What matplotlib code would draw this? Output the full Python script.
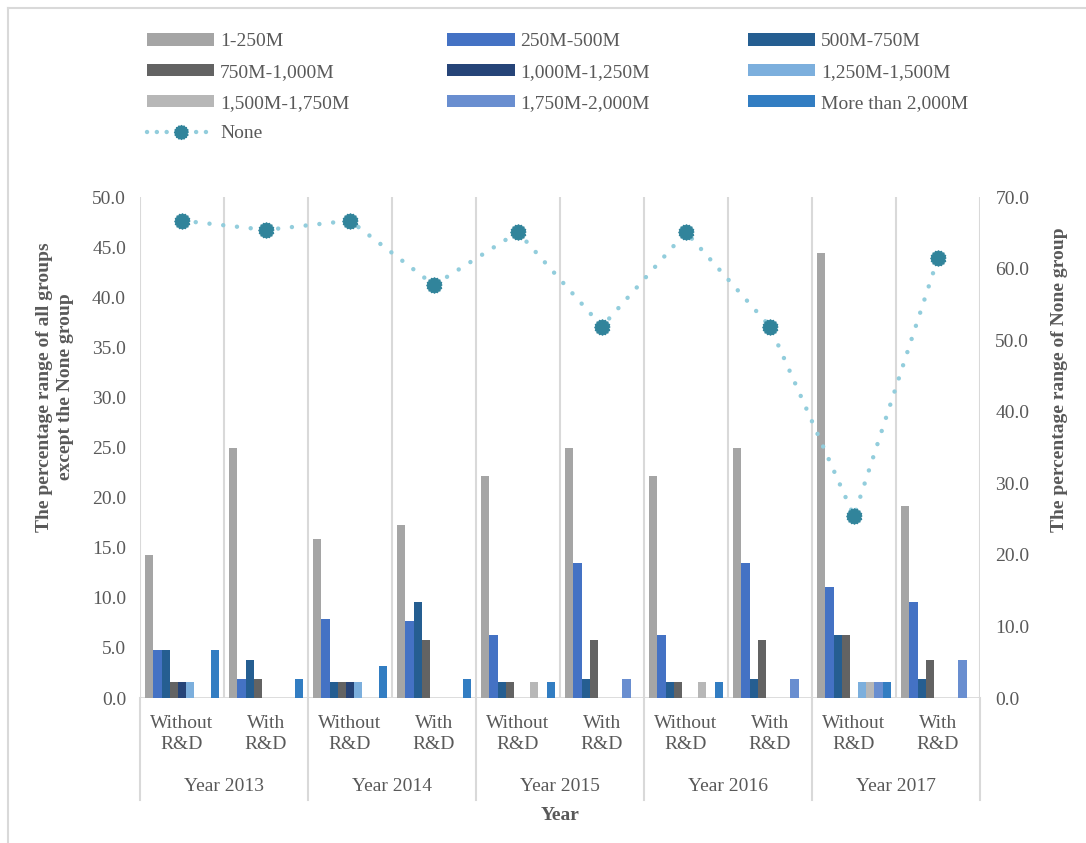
import numpy as np
import matplotlib
matplotlib.use("Agg")
import matplotlib.pyplot as plt
from matplotlib.lines import Line2D

plt.rcParams["font.family"] = ["Liberation Serif", "DejaVu Serif"]
plt.rcParams["font.size"] = 14

TEXT = "#595959"
GRID = "#D9D9D9"

years = ["Year 2013", "Year 2014", "Year 2015", "Year 2016", "Year 2017"]
groups = ["Without\nR&D", "With\nR&D"] * 5

sizes = ["1-250M", "250M-500M", "500M-750M", "750M-1,000M", "1,000M-1,250M",
         "1,250M-1,500M", "1,500M-1,750M", "1,750M-2,000M", "More than 2,000M"]
colors = ["#A5A5A5", "#4472C4", "#255E91", "#636363", "#264478",
          "#7CAFDD", "#B7B7B7", "#698ED0", "#327DC2"]

# one row per size band, one column per year/R&D group
s_1_250 = [14.3, 25.0, 15.9, 17.3, 22.2, 25.0, 22.2, 25.0, 44.4, 19.2]
s_250_500 = [4.8, 1.9, 7.9, 7.7, 6.3, 13.5, 6.3, 13.5, 11.1, 9.6]
s_500_750 = [4.8, 3.8, 1.6, 9.6, 1.6, 1.9, 1.6, 1.9, 6.3, 1.9]
s_750_1000 = [1.6, 1.9, 1.6, 5.8, 1.6, 5.8, 1.6, 5.8, 6.3, 3.8]
s_1000_1250 = [1.6, 0, 1.6, 0, 0, 0, 0, 0, 0, 0]
s_1250_1500 = [1.6, 0, 1.6, 0, 0, 0, 0, 0, 1.6, 0]
s_1500_1750 = [0, 0, 0, 0, 1.6, 0, 1.6, 0, 1.6, 0]
s_1750_2000 = [0, 0, 0, 0, 0, 1.9, 0, 1.9, 1.6, 3.8]
s_over_2000 = [4.8, 1.9, 3.2, 1.9, 1.6, 0, 1.6, 0, 1.6, 0]
none_group = [66.7, 65.4, 66.7, 57.7, 65.1, 51.9, 65.1, 51.9, 25.4, 61.5]

series = [s_1_250, s_250_500, s_500_750, s_750_1000, s_1000_1250,
          s_1250_1500, s_1500_1750, s_1750_2000, s_over_2000]

fig = plt.figure(figsize=(10.86, 8.43), dpi=100)
ax = fig.add_axes([0.1289, 0.172, 0.7735, 0.5943])
ax2 = ax.twinx()

x = np.arange(len(groups))
n = len(series)
w = 0.097
for i, (vals, lab, c) in enumerate(zip(series, sizes, colors)):
    ax.bar(x + (i - (n - 1) / 2) * w, vals, w, color=c, label=lab, zorder=3)

# gear-like marker for the None series
ang = np.linspace(0, 2 * np.pi, 33)[:-1]
rad = np.where(np.arange(32) % 2 == 0, 1.0, 0.86)
gear = list(zip(rad * np.cos(ang), rad * np.sin(ang)))

ax2.plot(x, none_group, color="#92CDDC", lw=3.2, dashes=(0.01, 3.1),
         dash_capstyle="round", zorder=4)
ax2.plot(x, none_group, ls="none", marker=gear, ms=11, color="#31849B",
         mec="#31849B", zorder=5)
none_handle = Line2D([], [], color="#92CDDC", lw=3.2, dashes=(0.01, 2.2),
                     dash_capstyle="round", marker=gear, ms=10,
                     mfc="#31849B", mec="#31849B")

ax.set_xlim(-0.5, len(groups) - 0.5)
ax.set_ylim(0, 50)
ax2.set_ylim(0, 70)
ax.set_yticks(np.arange(0, 50.1, 5))
ax2.set_yticks(np.arange(0, 70.1, 10))
ax.yaxis.set_major_formatter(lambda v, p: f"{v:.1f}")
ax2.yaxis.set_major_formatter(lambda v, p: f"{v:.1f}")

for a in (ax, ax2):
    for s in a.spines.values():
        s.set_visible(False)
    a.tick_params(axis="y", length=0, labelcolor=TEXT, labelsize=14)
ax.tick_params(axis="y", pad=10)
ax2.tick_params(axis="y", pad=11)

ax.set_xticks(x)
ax.set_xticklabels([])
ax.tick_params(axis="x", length=0)
ax.set_xticks(np.arange(-0.5, len(groups), 1), minor=True)
ax.tick_params(axis="x", which="minor", length=0)
ax.grid(which="minor", axis="x", color=GRID, lw=1.5, zorder=0)
ax.axhline(0, color=GRID, lw=2, zorder=2)

for xi, g in zip(x, groups):
    ax.text(xi, -0.071, g, transform=ax.get_xaxis_transform(), ha="center",
            va="center", color=TEXT, linespacing=1.3)
for k, yr in enumerate(years):
    ax.text(2 * k + 0.5, -0.176, yr, transform=ax.get_xaxis_transform(),
            ha="center", va="center", color=TEXT)
for b in np.arange(-0.5, len(groups), 2):
    ax.plot([b, b], [0, -0.204], transform=ax.get_xaxis_transform(),
            color=GRID, lw=1.5, clip_on=False)

ax.text(0.5, -0.234, "Year", transform=ax.transAxes, ha="center", va="center",
        color=TEXT, fontweight="bold")
fig.text(55 / 1086, 1 - 387 / 843,
         "The percentage range of all groups\nexcept the None group",
         rotation=90, ha="center", va="center", color=TEXT,
         fontweight="bold", linespacing=1.3)
fig.text(1060 / 1086, 1 - 380 / 843, "The percentage range of None group",
         rotation=90, ha="center", va="center", color=TEXT, fontweight="bold")

# legend laid out row by row in three columns
handles, labels = ax.get_legend_handles_labels()
handles.append(none_handle)
labels.append("None")
order = [0, 3, 6, 9, 1, 4, 7, 2, 5, 8]
leg = fig.legend([handles[i] for i in order], [labels[i] for i in order],
                 ncol=3, loc="upper left", bbox_to_anchor=(147 / 1086, 1 - 33 / 843),
                 frameon=False, handlelength=3.45, handleheight=0.62,
                 handletextpad=0.3, columnspacing=5.05, labelspacing=0.7,
                 borderpad=0, borderaxespad=0)
for t in leg.get_texts():
    t.set_color(TEXT)

# outer chart border
fig.add_artist(Line2D([8 / 1086, 8 / 1086], [0, 1 - 8 / 843], color=GRID, lw=1.5))
fig.add_artist(Line2D([8 / 1086, 1], [1 - 8 / 843, 1 - 8 / 843], color=GRID, lw=1.5))

fig.savefig("out.png", dpi=100, facecolor="white")
